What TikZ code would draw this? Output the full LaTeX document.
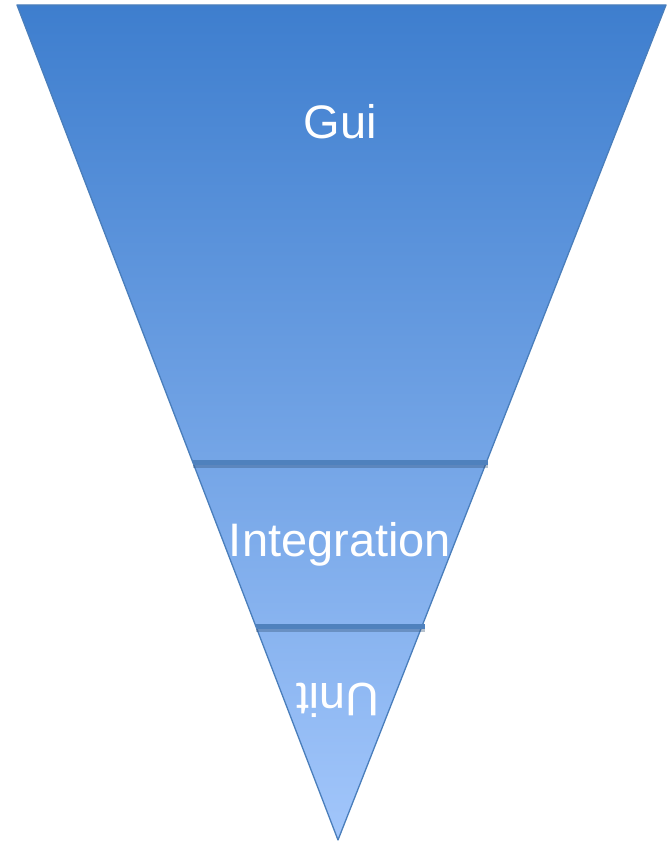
\documentclass[tikz,border=0pt]{standalone}
\usepackage{fontspec}
\setmainfont{Liberation Sans}
\definecolor{topblue}{HTML}{3E7ECE}
\definecolor{botblue}{HTML}{A2C6FB}
\definecolor{edgeblue}{HTML}{4A7EBB}
\definecolor{barblue}{HTML}{4F81BD}
\tikzset{
  lbl/.style={text=white, font=\fontsize{47}{56}\selectfont, inner sep=0pt},
  bar/.style={draw=barblue, line width=5pt},
  barshadow/.style={draw=barblue!60!black, opacity=0.35, line width=4pt},
}
\begin{document}
\begin{tikzpicture}[x=1pt,y=-1pt]
\useasboundingbox (0,0) rectangle (667,845);
\coordinate (tl) at (17,5);
\coordinate (tr) at (666,5);
\coordinate (ap) at (338,840);
\shade[top color=topblue, bottom color=botblue, draw=edgeblue, line width=1.3pt, line join=round]
  (tl) -- (tr) -- (ap) -- cycle;
\coordinate (b1l) at (193,462);
\coordinate (b1r) at (488,462);
\coordinate (b2l) at (256,626);
\coordinate (b2r) at (425,626);
\draw[barshadow] ([yshift=-4pt]b1l) -- ([yshift=-4pt]b1r);
\draw[barshadow] ([yshift=-4pt]b2l) -- ([yshift=-4pt]b2r);
\draw[bar] (b1l) -- (b1r);
\draw[bar] (b2l) -- (b2r);
\node[lbl] (gui) at (340,122) {Gui};
\node[lbl] (integ) at (340,544) {Integration};
\node[lbl, rotate=180] (unit) at (338,700) {Unit};
\end{tikzpicture}
\end{document}
